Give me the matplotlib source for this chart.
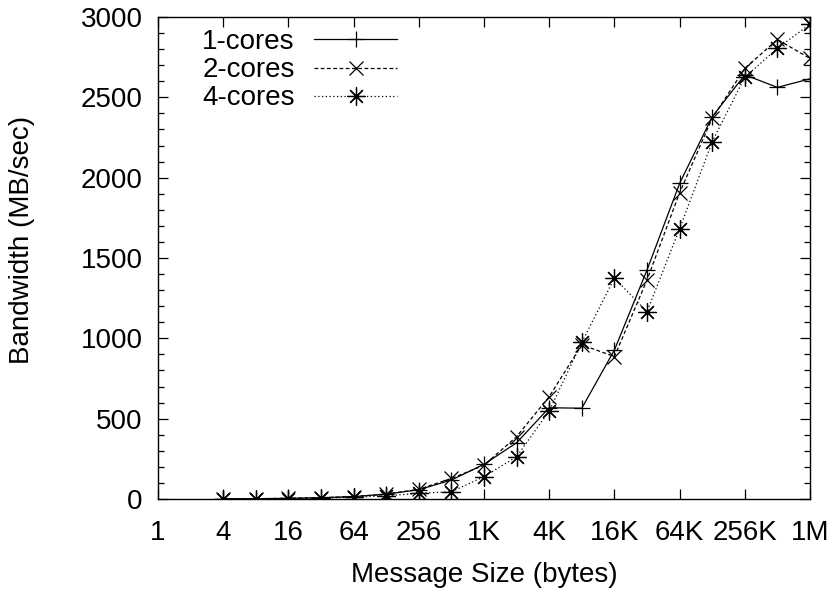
import matplotlib
matplotlib.use("Agg")
from matplotlib import pyplot as plt
from matplotlib.ticker import FixedLocator, MultipleLocator
import numpy as np

# message sizes in bytes: 4 .. 1M (powers of two)
sizes = [2**k for k in range(2, 21)]

bw_1core = [1, 2, 4, 8, 15, 30, 58, 118, 216, 350, 568, 565, 927, 1425,
            1964, 2379, 2640, 2562, 2615]
bw_2core = [1, 2, 4, 8, 15, 30, 60, 128, 210, 388, 637, 960, 886, 1363,
            1906, 2370, 2680, 2860, 2742]
bw_4core = [1, 2, 3, 6, 11, 20, 35, 45, 139, 263, 548, 975, 1375, 1166,
            1682, 2224, 2625, 2805, 2955]

tick_vals = [4**k for k in range(11)]
tick_labels = ["1", "4", "16", "64", "256", "1K", "4K", "16K", "64K", "256K", "1M"]

plt.rcParams['font.family'] = ['Liberation Sans', 'DejaVu Sans']
plt.rcParams['font.size'] = 20

W, H = 831, 589
fig = plt.figure(figsize=(W / 100, H / 100), dpi=100)
ax = fig.add_axes([158 / W, 1 - 499 / H, 652 / W, 482 / H])

lw = 0.9
ax.plot(sizes, bw_1core, color="black", lw=lw, ls="-", marker="+",
        markersize=11, markeredgewidth=lw, label="1-cores")
ax.plot(sizes, bw_2core, color="black", lw=lw, ls=(0, (3, 2)), marker="x",
        markersize=10, markeredgewidth=lw, label="2-cores")
ax.plot(sizes, bw_4core, color="black", lw=lw, ls=(0, (1, 2)), marker=(8, 2, 0),
        markersize=13, markeredgewidth=lw, label="4-cores")

ax.set_xscale("log", base=2)
ax.set_xlim(1, 2**20)
ax.set_ylim(0, 3000)
ax.xaxis.set_major_locator(FixedLocator(tick_vals))
ax.xaxis.set_minor_locator(FixedLocator([]))
ax.set_xticklabels(tick_labels)
ax.yaxis.set_major_locator(MultipleLocator(500))
ax.yaxis.set_minor_locator(MultipleLocator(100))

ax.tick_params(which="both", direction="in", top=True, right=True, width=0.9)
ax.tick_params(which="major", length=7)
ax.tick_params(which="minor", length=4)
ax.tick_params(axis="y", pad=11)
ax.tick_params(axis="x", pad=15)
for s in ax.spines.values():
    s.set_linewidth(1.0)

# axis titles placed in figure pixels
fig.text(22 / W, 1 - 240 / H, "Bandwidth (MB/sec)", rotation=90,
         ha="center", va="center")
fig.text(484 / W, 1 - 575 / H, "Message Size (bytes)", ha="center", va="center")

ax.legend(loc="upper left", bbox_to_anchor=(0.0675, 0.975), frameon=False,
          markerfirst=False, handlelength=3.0, handletextpad=0.7,
          labelspacing=0.08, borderaxespad=0, borderpad=0)

fig.savefig("out.png", dpi=100)
